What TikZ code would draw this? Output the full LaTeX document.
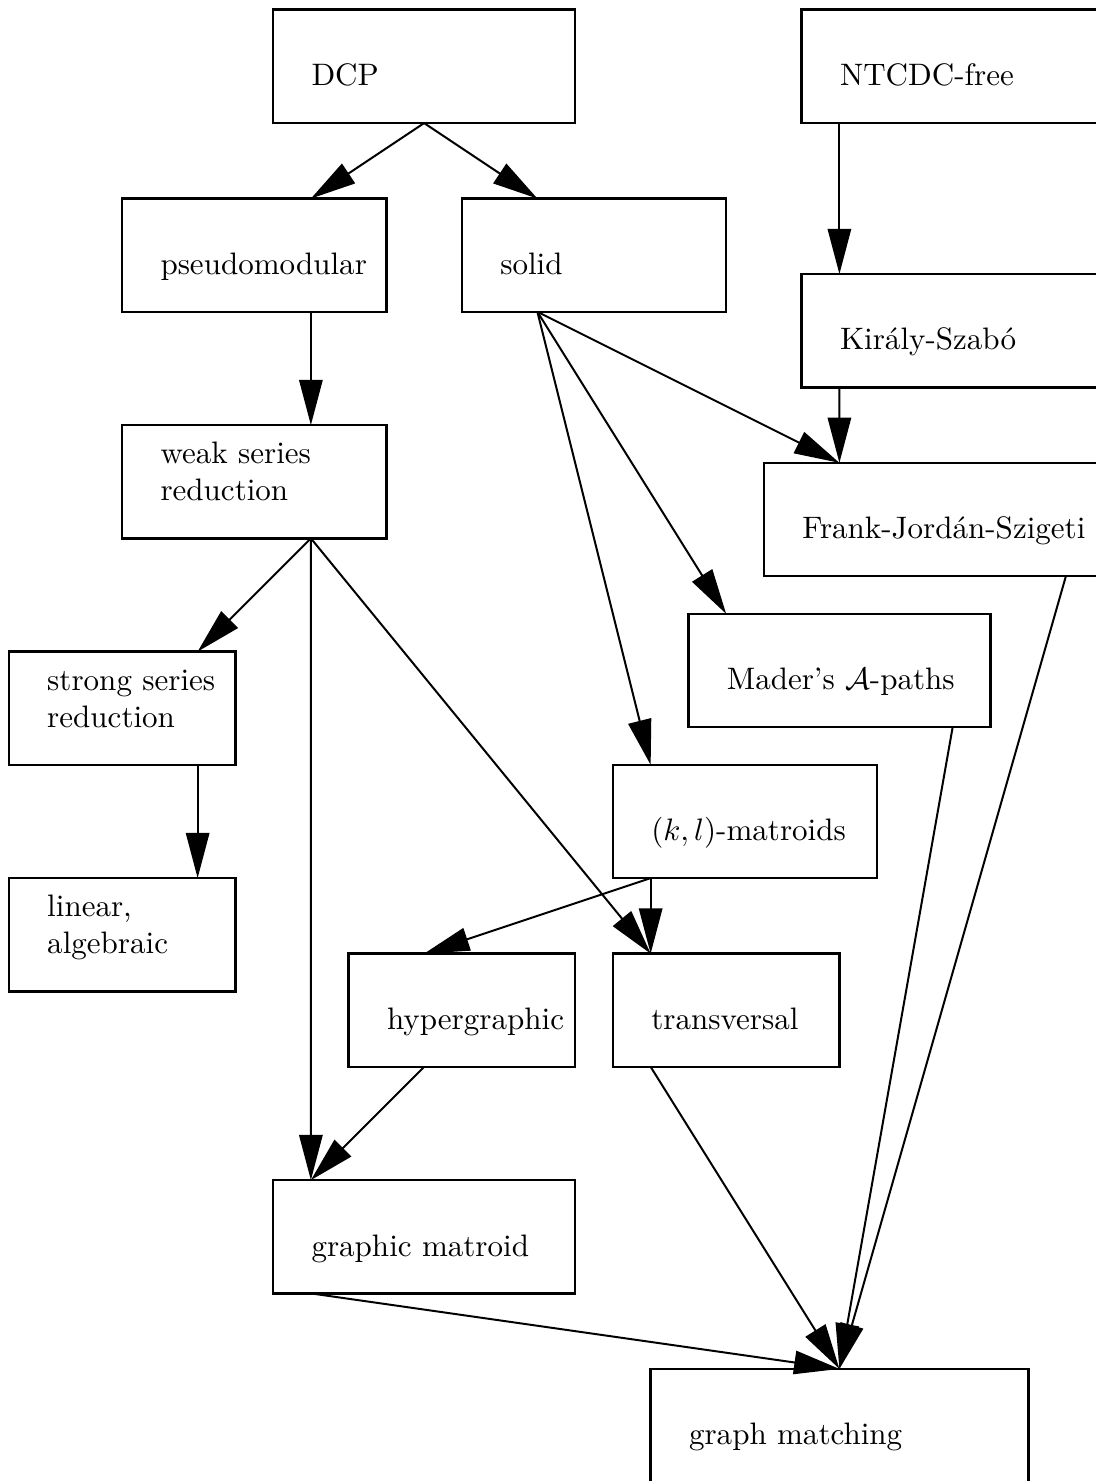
\documentclass[tikz,border=0pt]{standalone}
\usepackage{tikz}
\usetikzlibrary{arrows.meta}

\newcommand{\twolines}[2]{\begin{tabular}[b]{@{}l@{}}#1\\#2\end{tabular}}

\begin{document}
\begin{tikzpicture}[
    box/.style={draw,line width=2pt,anchor=north west,minimum height=3cm,inner sep=0pt,outer sep=0pt},
    lbl/.style={anchor=base west,inner sep=0pt,scale=2.34},
    edge/.style={line width=1.5pt,-{Triangle[length=1.2cm,width=0.62cm]}}
  ]
  \useasboundingbox (-0.235,0.26) rectangle (28.795,-38.97);

  % boxes: name / left / top / width / text
  \foreach \n/\x/\y/\w/\txt in {
      dcp/7/0/8/DCP,
      ntcdc/21/0/8/NTCDC-free,
      pseudo/3/5/7/pseudomodular,
      solid/12/5/7/solid,
      kiraly/21/7/8/Király-Szabó,
      weak/3/11/7/{\twolines{weak series}{reduction}},
      frank/20/12/9/Frank-Jordán-Szigeti,
      mader/18/16/8/{Mader's $\mathcal{A}$-paths},
      strong/0/17/6/{\twolines{strong series}{reduction}},
      kl/16/20/7/{$(k,l)$-matroids},
      linear/0/23/6/{\twolines{linear,}{algebraic}},
      hyper/9/25/6/hypergraphic,
      trans/16/25/6/transversal,
      graphic/7/31/8/graphic matroid,
      matching/17/36/10/graph matching} {
    \node[box,minimum width=\w cm] (\n) at (\x,-\y) {};
    \node[lbl] (\n-text) at (\x+1,-\y-2.01) {\txt};
  }

  % arrows: from / offset / to / offset
  \foreach \a/\da/\b/\db in {
      dcp/4/pseudo/5, dcp/4/solid/2,
      ntcdc/1/kiraly/1,
      pseudo/5/weak/5,
      solid/2/frank/2, solid/2/mader/1, solid/2/kl/1,
      kiraly/1/frank/2,
      weak/5/strong/5, weak/5/graphic/1, weak/5/trans/1,
      strong/5/linear/5,
      kl/1/hyper/2, kl/1/trans/1,
      hyper/2/graphic/1,
      trans/1/matching/5, graphic/1/matching/5,
      mader/7/matching/5, frank/8/matching/5} {
    \draw[edge] ([xshift=\da cm]\a.south west) -- ([xshift=\db cm]\b.north west);
  }
\end{tikzpicture}
\end{document}
